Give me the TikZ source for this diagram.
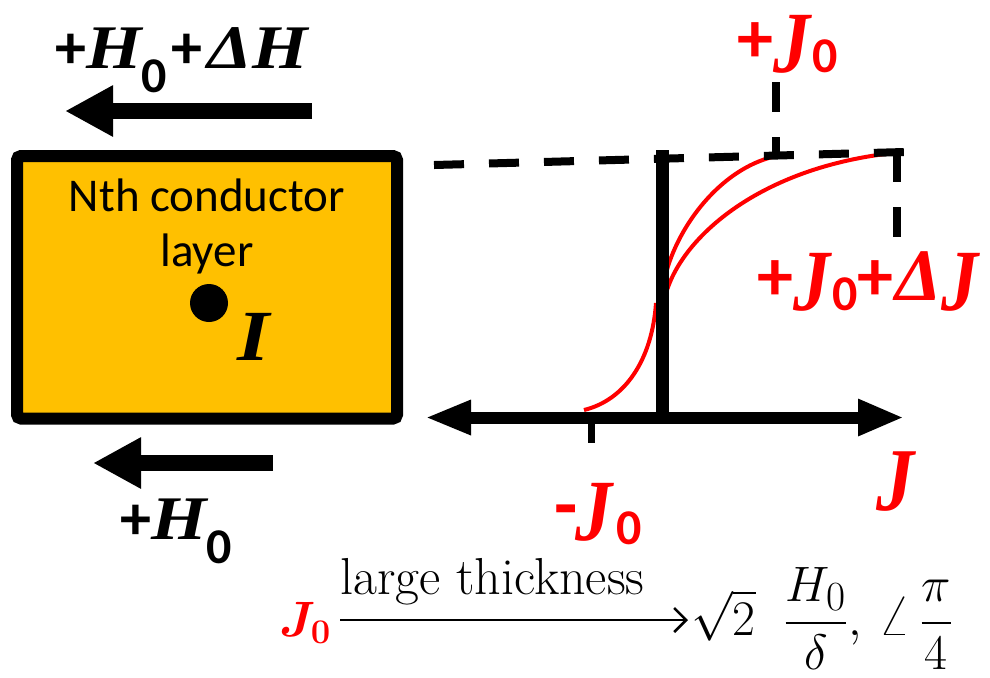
\documentclass[tikz,border=0pt]{standalone}
\usepackage{amsmath}
\usepackage{fontspec}
\usetikzlibrary{arrows.meta}
\newfontfamily\calfont{Carlito}
\newfontfamily\serifbi{Liberation Serif}
\definecolor{gold}{HTML}{FFC000}
\definecolor{myred}{RGB}{255,0,0}
\newcommand\bsans[2]{{\fontsize{#1}{#1}\selectfont\calfont\bfseries #2}}
\newcommand\bital[2]{{\fontsize{#1}{#1}\selectfont\serifbi\bfseries\itshape\scalebox{1.15}[1]{#2}}}
\newcommand\bitaln[2]{{\fontsize{#1}{#1}\selectfont\serifbi\bfseries\itshape #2}}
\newcommand\redJ[1]{\raisebox{-5pt}{\scalebox{1}[1.18]{\bitaln{#1}{J}}}}
\newcommand\subz[3]{\raisebox{-#2pt}{\bsans{#1}{#3}}}
\begin{document}
\begin{tikzpicture}[x=0.5pt,y=-0.5pt,
  fieldarrow/.style={line width=8pt,-{Triangle[length=24pt,width=24pt]}},
  axisline/.style={line width=6pt,{Triangle[length=23pt,width=16pt]}-{Triangle[length=23pt,width=17pt]}},
  dashline/.style={line width=4pt,dash pattern=on 15pt off 12.5pt},
  redcurve/.style={myred,line width=2pt},
  thinarrow/.style={line width=1.3pt,-{Straight Barb[length=6pt,width=12pt,line width=1.3pt]}},
  lbl/.style={inner sep=0pt,anchor=base west}]
\useasboundingbox (0,0) rectangle (990,677);

% conductor box
\node[draw,line width=6pt,fill=gold,rounded corners=2pt,inner sep=0pt,
  minimum width=190pt,minimum height=131.25pt] (box) at (207,287.25) {};
\node[inner sep=0pt,anchor=base,font=\fontsize{23.5}{23.5}\selectfont\calfont] (t1) at (207,211) {Nth conductor};
\node[inner sep=0pt,anchor=base,font=\fontsize{23.5}{23.5}\selectfont\calfont] (t2) at (207,266) {layer};
\node[circle,fill=black,minimum size=19pt,inner sep=0pt] (dot) at (209,303) {};
\node[inner sep=0pt,anchor=base] (ilbl) at (254,360) {\bital{36}{I}};

% field arrows
\coordinate (h1tail) at (312,111);
\coordinate (h1tip) at (65,111);
\draw[fieldarrow] (h1tail) -- (h1tip);
\coordinate (h2tail) at (273,463);
\coordinate (h2tip) at (93,463);
\draw[fieldarrow] (h2tail) -- (h2tip);
\node[lbl] (hlbl1) at (55,68) {\bsans{31}{+}\bital{31}{H}\subz{25}{12}{0}\kern2pt\bsans{31}{+}\kern3pt\bital{31}{ΔH}};
\node[lbl] (hlbl2) at (120,539) {\bsans{31}{+}\bital{31}{H}\subz{25}{12}{0}};

% red curves
\coordinate (c1a) at (584,410);
\coordinate (c1b) at (656,303);
\coordinate (c2a) at (663,287);
\coordinate (c2b) at (791,154);
\coordinate (c3a) at (667,290);
\coordinate (c3b) at (885,154);
\draw[redcurve] (c1a) .. controls (625,400) and (652,360) .. (c1b);
\draw[redcurve] (c2a) .. controls (672,230) and (725,158) .. (c2b);
\draw[redcurve] (c3a) .. controls (685,235) and (760,170) .. (c3b);

% dashed guides
\coordinate (d1a) at (434,165);
\coordinate (d1b) at (904,152);
\coordinate (d2a) at (897,152);
\coordinate (d2b) at (897,238);
\coordinate (d3a) at (776,82);
\coordinate (d3b) at (776,158);
\draw[dashline] (d1a) -- (d1b);
\draw[dashline] (d2a) -- (d2b);
\draw[dashline] (d3a) -- (d3b);

% axes
\coordinate (xl) at (425,417.5);
\coordinate (xr) at (904,417.5);
\coordinate (yt) at (662,150);
\coordinate (yb) at (662,423);
\draw[line width=6.5pt] (yb) -- (yt);
\draw[axisline] (xl) -- (xr);
\coordinate (tk1) at (591.5,420);
\coordinate (tk2) at (591.5,443);
\draw[line width=3.5pt] (tk1) -- (tk2);

% red labels
\node[lbl,text=myred] (jtop) at (737,62) {\bsans{36}{+}\redJ{37}\kern1pt\subz{25}{5}{0}};
\node[lbl,text=myred] (jdj) at (757,300) {\bsans{36}{+}\redJ{37}\kern1pt\subz{25}{5}{0}\bsans{36}{+}\kern1pt\bitaln{37}{Δ}\redJ{37}};
\node[lbl,text=myred] (jneg) at (554,530) {\bsans{38}{-}\kern-1pt\redJ{37}\kern2pt\subz{25}{7}{0}};
\node[lbl,text=myred] (jax) at (876,500) {\redJ{38}};

% bottom formula
\node[lbl] (fj) at (279,636) {\fontsize{27}{27}\selectfont$\boldsymbol{\color{myred}J_0}$};
\node[lbl,font=\fontsize{26}{26}\selectfont] (thick) at (340,594) {large thickness};
\coordinate (arrA) at (340,620);
\coordinate (arrB) at (688,620);
\draw[thinarrow] (arrA) -- (arrB);
\node[lbl] (rhs) at (691,635) {\fontsize{29}{29}\selectfont$\sqrt{2}\;\;\dfrac{H_0}{\delta},\,\angle\,\dfrac{\pi}{4}$};
\end{tikzpicture}
\end{document}
